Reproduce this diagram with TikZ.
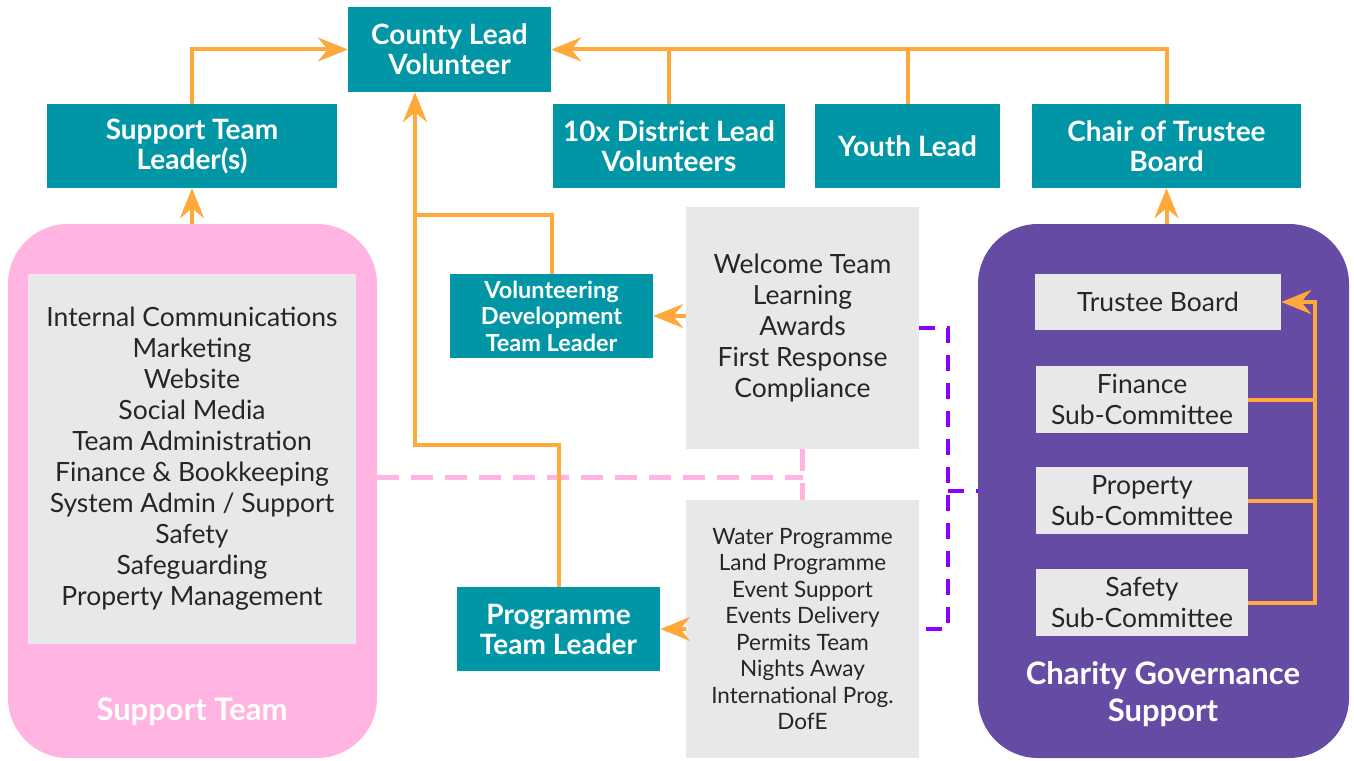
\documentclass[tikz,border=0pt]{standalone}
\usepackage{fontspec}
\setmainfont{Lato}
\usetikzlibrary{arrows.meta}
\definecolor{teal1}{RGB}{0,150,166}
\definecolor{pinkbg}{RGB}{255,180,225}
\definecolor{purpbg}{RGB}{101,75,164}
\definecolor{grayb}{RGB}{232,232,232}
\definecolor{orng}{RGB}{255,168,60}
\definecolor{violetd}{RGB}{140,0,255}
\tikzset{
  tbox/.style={fill=teal1, text=white, font=\bfseries\fontsize{28}{30}\selectfont, align=center, inner sep=0pt, minimum height=84pt},
  gbox/.style={fill=grayb, text=black!85, align=center, inner sep=0pt},
  reg/.style={font=\fontsize{26.5}{31}\selectfont},
  conn/.style={draw=orng, line width=4pt},
  arr/.style={conn, -{Stealth[length=30pt,width=24pt,inset=10pt]}},
  pinkdash/.style={draw=pinkbg, line width=5pt, dash pattern=on 22pt off 12pt},
  purpdash/.style={draw=violetd, line width=3.5pt, dash pattern=on 16pt off 12pt},
}
\begin{document}
\begin{tikzpicture}[x=1pt,y=-1pt]
\useasboundingbox (0,0) rectangle (1354,760);
% containers
\node[fill=pinkbg, rounded corners=60pt, minimum width=369pt, minimum height=534pt, inner sep=0pt] (pink) at (192.5,491) {};
\node[fill=purpbg, rounded corners=60pt, minimum width=371pt, minimum height=534pt, inner sep=0pt] (purple) at (1163.5,491) {};
\node[gbox, reg, minimum width=328pt, minimum height=370pt] (pinkin) at (192,459) {Internal Communications\\Marketing\\Website\\Social Media\\Team Administration\\Finance \& Bookkeeping\\System Admin / Support\\Safety\\Safeguarding\\Property Management};
\node[text=white, font=\bfseries\fontsize{31}{37}\selectfont] (stlab) at (192,712) {Support Team};
\node[text=white, font=\bfseries\fontsize{31}{37}\selectfont, align=center] (cglab) at (1163,694) {Charity Governance\\Support};
% teal boxes
\node[tbox, minimum width=203pt, minimum height=85pt] (clv) at (449.5,49.5) {County Lead\\Volunteer};
\node[tbox, minimum width=290pt] (stl) at (192,146) {Support Team\\Leader(s)};
\node[tbox, minimum width=232pt] (dlv) at (669,146) {10x District Lead\\Volunteers};
\node[tbox, minimum width=185pt] (yl) at (907.5,146) {Youth Lead};
\node[tbox, minimum width=269pt] (ctb) at (1166.5,146) {Chair of Trustee\\Board};
\node[tbox, minimum width=203pt, font=\bfseries\fontsize{23.5}{26.5}\selectfont] (vdtl) at (551.5,316) {Volunteering\\Development\\Team Leader};
\node[tbox, minimum width=203pt] (ptl) at (558.5,629) {Programme\\Team Leader};
% grey boxes
\node[gbox, reg, minimum width=233pt, minimum height=242pt] (welcome) at (802.5,328) {Welcome Team\\Learning\\Awards\\First Response\\Compliance};
\node[gbox, minimum width=233pt, minimum height=258pt, font=\fontsize{22.5}{26.5}\selectfont] (prog) at (802.5,629) {Water Programme\\Land Programme\\Event Support\\Events Delivery\\Permits Team\\Nights Away\\International Prog.\\DofE};
\node[gbox, reg, minimum width=246pt, minimum height=56pt] (tb) at (1158,302) {Trustee Board};
\node[gbox, reg, minimum width=212pt, minimum height=67pt] (fin) at (1142,399.5) {Finance\\Sub-Committee};
\node[gbox, reg, minimum width=212pt, minimum height=67pt] (prop) at (1142,500.5) {Property\\Sub-Committee};
\node[gbox, reg, minimum width=212pt, minimum height=67pt] (saf) at (1142,602.5) {Safety\\Sub-Committee};
% coordinates
\coordinate (j1) at (415,445);
\coordinate (j2) at (415,215);
\coordinate (bus) at (1315,0);
\coordinate (pd) at (802.5,477);
\coordinate (vd) at (948,491);
% dashed links
\draw[pinkdash] (pink.east |- pd) -- (pd);
\draw[pinkdash] (welcome.south) -- (prog.north);
\draw[purpdash] (welcome.east) -| (vd) |- (prog.east);
\draw[purpdash] (vd) -- (purple.west |- vd);
% orange connectors
\draw[arr] (stl.north) |- (clv.west);
\draw[conn] (dlv.north) -- (dlv.north |- clv.east);
\draw[conn] (yl.north) -- (yl.north |- clv.east);
\draw[arr] (ctb.north) |- (clv.east);
\draw[arr] (ptl.north) |- (j1) -- (clv.south -| j1);
\draw[conn] (vdtl.north) |- (j2);
\draw[arr] (stl.south |- pink.north) -- (stl.south);
\draw[arr] (ctb.south |- purple.north) -- (ctb.south);
\draw[arr] (welcome.west |- vdtl.east) -- (vdtl.east);
\draw[arr] (prog.west |- ptl.east) -- (ptl.east);
\draw[conn] (fin.east) -- (fin.east -| bus);
\draw[conn] (prop.east) -- (prop.east -| bus);
\draw[arr] (saf.east) -| (bus |- tb.east) -- (tb.east);
\end{tikzpicture}
\end{document}
